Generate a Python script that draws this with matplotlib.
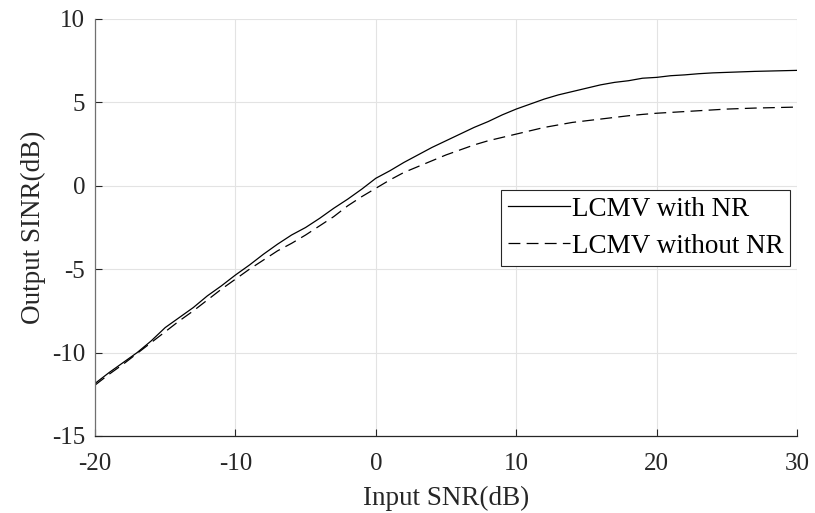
import matplotlib
matplotlib.use("Agg")
import matplotlib.pyplot as plt
import numpy as np

plt.rcParams['font.family'] = ['Liberation Serif', 'DejaVu Serif']
plt.rcParams['axes.unicode_minus'] = False

snr_in = list(range(-20, 31))
sinr_with_nr = [-11.85, -11.2, -10.6, -10.0, -9.3, -8.5, -7.9, -7.3, -6.6, -6.0,
                -5.35, -4.75, -4.1, -3.5, -2.95, -2.5, -1.95, -1.35, -0.8, -0.2,
                0.45, 0.9, 1.4, 1.85, 2.3, 2.7, 3.1, 3.5, 3.85, 4.25,
                4.6, 4.9, 5.2, 5.45, 5.65, 5.85, 6.05, 6.2, 6.3, 6.45,
                6.5, 6.6, 6.65, 6.72, 6.77, 6.8, 6.83, 6.86, 6.88, 6.9, 6.92]
sinr_without_nr = [-11.95, -11.3, -10.7, -10.05, -9.4, -8.75, -8.1, -7.5, -6.85, -6.2,
                   -5.6, -5.0, -4.45, -3.9, -3.45, -2.95, -2.4, -1.85, -1.2, -0.65,
                   -0.15, 0.35, 0.8, 1.15, 1.5, 1.85, 2.15, 2.45, 2.7, 2.9,
                   3.1, 3.3, 3.5, 3.65, 3.8, 3.9, 4.0, 4.1, 4.2, 4.28,
                   4.35, 4.4, 4.45, 4.5, 4.55, 4.6, 4.63, 4.66, 4.68, 4.7, 4.72]
labels = ['LCMV with NR', 'LCMV without NR']
xticks = [-20, -10, 0, 10, 20, 30]
yticks = [-15, -10, -5, 0, 5, 10]

fig = plt.figure(figsize=(8.15, 5.13), dpi=100)
ax = fig.add_axes([95/815, 1-436/513, (797-95)/815, (436-19)/513])

ax.plot(snr_in, sinr_with_nr, color='black', linewidth=0.9, linestyle='-', label=labels[0])
ax.plot(snr_in, sinr_without_nr, color='black', linewidth=0.9, linestyle=(0, (9.5, 5)), label=labels[1])

ax.set_xlim(-20, 30)
ax.set_ylim(-15, 10)
ax.set_xticks(xticks)
ax.set_yticks(yticks)
ax.grid(True, color='#e3e3e3', linewidth=0.8)
ax.set_axisbelow(True)

ax.spines['top'].set_visible(False)
ax.spines['right'].set_visible(False)
ax.spines['left'].set_color('#707070')
ax.spines['bottom'].set_color('#262626')
ax.spines['left'].set_linewidth(0.9)
ax.spines['bottom'].set_linewidth(0.9)
ax.tick_params(direction='in', length=5, width=0.8, colors='#262626', labelsize=18)
ax.tick_params(axis='x', pad=12)
ax.tick_params(axis='y', pad=7)

ax.set_xlabel('Input SNR(dB)', fontsize=19.5, color='#262626', labelpad=8)
ax.set_ylabel('Output SINR(dB)', fontsize=19.5, color='#262626', labelpad=4.5)

leg = ax.legend(loc='upper right', bbox_to_anchor=(0.99, 0.59), borderaxespad=0,
                fontsize=19.5, fancybox=False, framealpha=1, edgecolor='#262626',
                handlelength=2.3, handletextpad=0.05, borderpad=0.25, labelspacing=0.45)
leg.get_frame().set_linewidth(0.8)

fig.savefig('out.png', dpi=100)
